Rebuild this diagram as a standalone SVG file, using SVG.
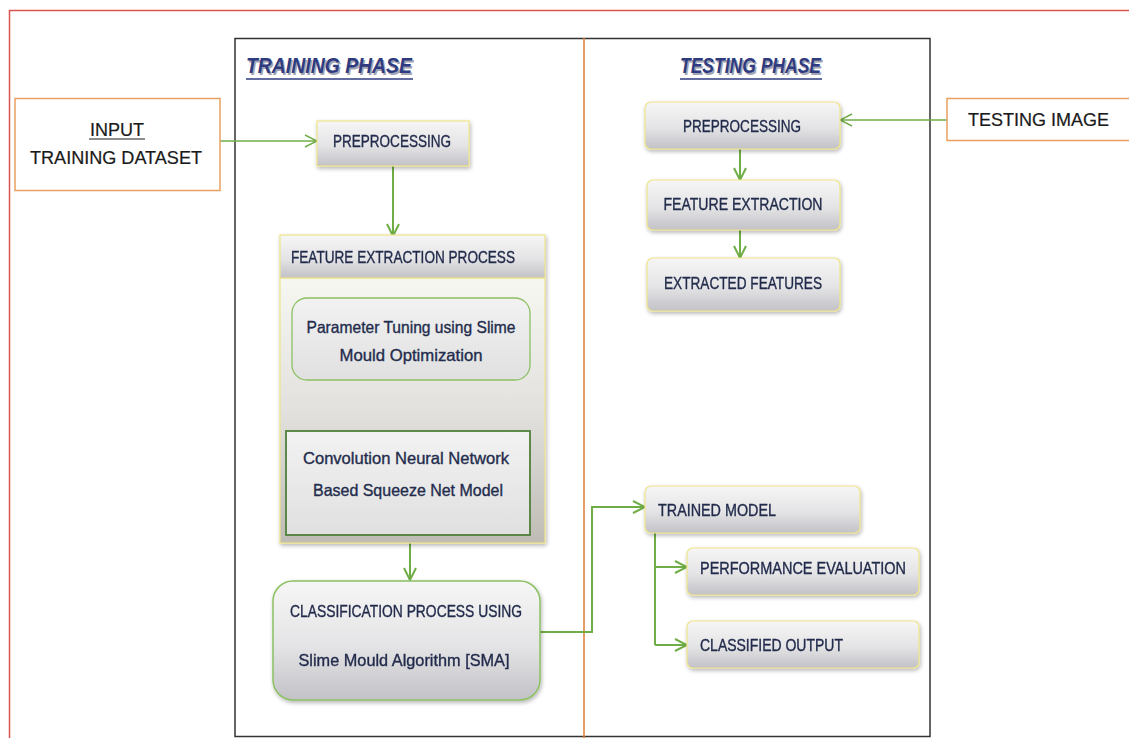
<svg xmlns="http://www.w3.org/2000/svg" width="1129" height="738" viewBox="0 0 1129 738">
  <style>
    .lbl { font-family: "Liberation Sans", Arial, sans-serif; font-size: 16.5px; fill: #232c4c; stroke: #232c4c; stroke-width: 0.35; }
    .plain { font-family: "Liberation Sans", Arial, sans-serif; font-size: 18px; fill: #1a1a1a; stroke: #1a1a1a; stroke-width: 0.2; }
    .title { font-family: "Liberation Sans", Arial, sans-serif; font-size: 22px; font-weight: bold; font-style: italic; fill: #2e3b80; }
    .tshadow { font-family: "Liberation Sans", Arial, sans-serif; font-size: 22px; font-weight: bold; font-style: italic; fill: #a4a4b2; }
    .box { fill: url(#gBox); stroke: #efe48a; stroke-width: 1.2; }
    .conn { fill: none; stroke: #70ad47; stroke-width: 2; }
    .thin { fill: none; stroke: #70ad47; stroke-width: 1.4; }
  </style>
  <defs>
    <linearGradient id="gBox" x1="0" y1="0" x2="0" y2="1">
      <stop offset="0" stop-color="#f6f6f6"/>
      <stop offset="0.55" stop-color="#e4e4e6"/>
      <stop offset="1" stop-color="#c2c2c7"/>
    </linearGradient>
    <linearGradient id="gPanel" x1="0" y1="0" x2="0" y2="1">
      <stop offset="0" stop-color="#f7f7f2"/>
      <stop offset="0.5" stop-color="#e2e1dd"/>
      <stop offset="1" stop-color="#bfbcb5"/>
    </linearGradient>
    <linearGradient id="gInner" x1="0" y1="0" x2="0" y2="1">
      <stop offset="0" stop-color="#f2f2f2"/>
      <stop offset="1" stop-color="#e0e0e0"/>
    </linearGradient>
    <filter id="shadow" x="-10%" y="-10%" width="125%" height="135%">
      <feGaussianBlur in="SourceAlpha" stdDeviation="2"/>
      <feOffset dx="1" dy="2" result="b"/>
      <feComponentTransfer><feFuncA type="linear" slope="0.3"/></feComponentTransfer>
      <feMerge><feMergeNode/><feMergeNode in="SourceGraphic"/></feMerge>
    </filter>
    <marker id="arr" viewBox="0 0 14 14" refX="13" refY="7" markerWidth="14" markerHeight="14" markerUnits="userSpaceOnUse" orient="auto">
      <path d="M1,1 L13,7 L1,13" fill="none" stroke="#70ad47" stroke-width="2"/>
    </marker>
    <marker id="arrThin" viewBox="0 0 14 14" refX="13" refY="7" markerWidth="14" markerHeight="14" markerUnits="userSpaceOnUse" orient="auto">
      <path d="M1,1 L13,7 L1,13" fill="none" stroke="#70ad47" stroke-width="1.4"/>
    </marker>
  </defs>

  <rect width="1129" height="738" fill="#ffffff"/>

  <!-- outer frame -->
  <path d="M9.5,740 V10.5 H1131" fill="none" stroke="#d9534f" stroke-width="1.5"/>

  <!-- phase panel and divider -->
  <rect x="235" y="38.5" width="695" height="698" fill="none" stroke="#333333" stroke-width="1.5"/>
  <line x1="584" y1="38" x2="584" y2="738" stroke="#e07b39" stroke-width="1.5"/>

  <!-- phase titles -->
  <g id="title-training">
    <text class="tshadow" x="247.5" y="74.5" textLength="166" lengthAdjust="spacingAndGlyphs">TRAINING  PHASE</text>
    <text class="title" x="246" y="73" textLength="166" lengthAdjust="spacingAndGlyphs">TRAINING  PHASE</text>
    <line x1="246" y1="79" x2="413" y2="79" stroke="#2e3b80" stroke-width="1.5"/>
  </g>
  <g id="title-testing">
    <text class="tshadow" x="681.5" y="74.5" textLength="141" lengthAdjust="spacingAndGlyphs">TESTING PHASE</text>
    <text class="title" x="680" y="73" textLength="141" lengthAdjust="spacingAndGlyphs">TESTING PHASE</text>
    <line x1="680" y1="79" x2="822" y2="79" stroke="#2e3b80" stroke-width="1.5"/>
  </g>

  <!-- connectors -->
  <g id="connectors">
    <line class="thin" x1="220" y1="141" x2="317" y2="141" marker-end="url(#arrThin)"/>
    <line class="conn" x1="393" y1="166" x2="393" y2="236" marker-end="url(#arr)"/>
    <line class="conn" x1="410" y1="380" x2="410" y2="431" marker-end="url(#arr)"/>
    <line class="conn" x1="410" y1="536" x2="410" y2="580" marker-end="url(#arr)"/>
    <path class="conn" d="M540,632 H592 V507 H645" marker-end="url(#arr)"/>
    <path class="conn" d="M655,533 V645"/>
    <line class="conn" x1="655" y1="567" x2="687" y2="567" marker-end="url(#arr)"/>
    <line class="conn" x1="655" y1="645" x2="687" y2="645" marker-end="url(#arr)"/>
    <line class="thin" x1="947" y1="120" x2="840" y2="120" marker-end="url(#arrThin)"/>
    <line class="conn" x1="740" y1="149" x2="740" y2="180" marker-end="url(#arr)"/>
    <line class="conn" x1="740" y1="230" x2="740" y2="258" marker-end="url(#arr)"/>
  </g>

  <!-- training side -->
  <g id="input-training-dataset">
    <rect x="15" y="98.5" width="205" height="92" fill="#ffffff" stroke="#e8a060" stroke-width="1.5"/>
    <text class="plain" x="117" y="136" text-anchor="middle">INPUT</text>
    <line x1="89" y1="139" x2="145" y2="139" stroke="#1a1a1a" stroke-width="1"/>
    <text class="plain" x="116" y="164" text-anchor="middle" textLength="172" lengthAdjust="spacingAndGlyphs">TRAINING DATASET</text>
  </g>

  <g id="preprocessing-train" filter="url(#shadow)">
    <rect class="box" x="317" y="121" width="152" height="45"/>
    <text class="lbl" x="333" y="147" textLength="118" lengthAdjust="spacingAndGlyphs">PREPROCESSING</text>
  </g>

  <g id="feature-extraction-process" filter="url(#shadow)">
    <rect x="280" y="278" width="265" height="265" fill="url(#gPanel)" stroke="#efe48a" stroke-width="1.2"/>
    <rect class="box" x="280" y="235" width="265" height="43"/>
    <text class="lbl" x="291" y="263" textLength="224" lengthAdjust="spacingAndGlyphs">FEATURE EXTRACTION PROCESS</text>
  </g>

  <g id="parameter-tuning">
    <rect x="292" y="298" width="238" height="82" rx="15" fill="url(#gInner)" stroke="#8cc063" stroke-width="1.3"/>
    <text class="lbl" x="411" y="333" text-anchor="middle" textLength="209" lengthAdjust="spacingAndGlyphs">Parameter Tuning using Slime</text>
    <text class="lbl" x="411" y="361" text-anchor="middle" textLength="143" lengthAdjust="spacingAndGlyphs">Mould Optimization</text>
  </g>

  <g id="cnn-squeezenet">
    <rect x="286" y="431" width="244" height="104" fill="url(#gInner)" stroke="#4f7f3a" stroke-width="1.8"/>
    <text class="lbl" x="406" y="464" text-anchor="middle" textLength="206" lengthAdjust="spacingAndGlyphs">Convolution Neural Network</text>
    <text class="lbl" x="408" y="496" text-anchor="middle" textLength="190" lengthAdjust="spacingAndGlyphs">Based Squeeze Net Model</text>
  </g>

  <g id="classification-sma" filter="url(#shadow)">
    <rect x="273" y="581" width="267" height="119" rx="20" fill="url(#gBox)" stroke="#8cc063" stroke-width="1.5"/>
    <text class="lbl" x="406" y="617" text-anchor="middle" textLength="232" lengthAdjust="spacingAndGlyphs">CLASSIFICATION PROCESS USING</text>
    <text class="lbl" x="404" y="666" text-anchor="middle" textLength="211" lengthAdjust="spacingAndGlyphs">Slime Mould Algorithm [SMA]</text>
  </g>

  <!-- testing side -->
  <g id="testing-image">
    <rect x="947" y="98.5" width="190" height="42" fill="#ffffff" stroke="#e8a060" stroke-width="1.5"/>
    <text class="plain" x="968" y="126" textLength="141" lengthAdjust="spacingAndGlyphs">TESTING IMAGE</text>
  </g>

  <g id="preprocessing-test" filter="url(#shadow)">
    <rect class="box" x="645" y="102" width="195" height="47" rx="6"/>
    <text class="lbl" x="742" y="132" text-anchor="middle" textLength="118" lengthAdjust="spacingAndGlyphs">PREPROCESSING</text>
  </g>

  <g id="feature-extraction" filter="url(#shadow)">
    <rect class="box" x="647" y="180" width="193" height="50" rx="6"/>
    <text class="lbl" x="743" y="210" text-anchor="middle" textLength="159" lengthAdjust="spacingAndGlyphs">FEATURE EXTRACTION</text>
  </g>

  <g id="extracted-features" filter="url(#shadow)">
    <rect class="box" x="647" y="258" width="193" height="53" rx="6"/>
    <text class="lbl" x="743" y="289" text-anchor="middle" textLength="158" lengthAdjust="spacingAndGlyphs">EXTRACTED FEATURES</text>
  </g>

  <g id="trained-model" filter="url(#shadow)">
    <rect class="box" x="645" y="486" width="215" height="47" rx="6"/>
    <text class="lbl" x="658" y="516" textLength="118" lengthAdjust="spacingAndGlyphs">TRAINED MODEL</text>
  </g>

  <g id="performance-evaluation" filter="url(#shadow)">
    <rect class="box" x="687" y="548" width="232" height="47" rx="6"/>
    <text class="lbl" x="700" y="574" textLength="206" lengthAdjust="spacingAndGlyphs">PERFORMANCE EVALUATION</text>
  </g>

  <g id="classified-output" filter="url(#shadow)">
    <rect class="box" x="687" y="621" width="232" height="47" rx="6"/>
    <text class="lbl" x="700" y="651" textLength="143" lengthAdjust="spacingAndGlyphs">CLASSIFIED OUTPUT</text>
  </g>
</svg>
